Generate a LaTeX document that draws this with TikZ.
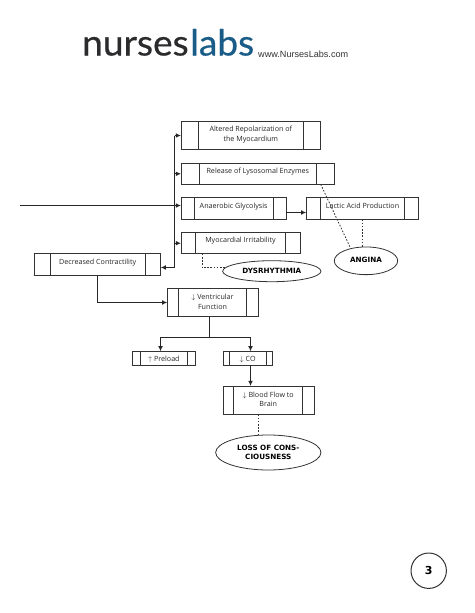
\documentclass[tikz,border=0pt]{standalone}
\usepackage{fontspec}
\usetikzlibrary{arrows.meta,shapes.geometric,calc}
\setmainfont{DejaVu Sans}
\newfontfamily\logofont[FakeBold=0.5,FakeStretch=1.03]{Lato}
\newfontfamily\urlfont{Liberation Sans}
\newfontfamily\boxfont{Open Sans}
\definecolor{ink}{gray}{0.2}
\definecolor{logodark}{HTML}{2B2B2D}
\definecolor{logoblue}{HTML}{1A5C88}
\tikzset{
  x=1pt,y=-1pt,
  flowbox/.style={draw=ink,line width=0.8pt,rectangle,inner sep=0pt,outer sep=0pt},
  boxlabel/.style={font=\boxfont\fontsize{7.15}{9.3}\selectfont,text=black!85,align=center,inner sep=0pt},
  oval/.style={draw=ink,line width=0.8pt,ellipse,inner sep=0pt,outer sep=0pt,fill=white,
    font=\fontsize{7.2}{9.3}\selectfont\bfseries,text=black,align=center},
  flow/.style={draw=black!85,line width=1.05pt,-{Latex[length=5.2pt,width=4.8pt]}},
  plainflow/.style={draw=black!85,line width=1.05pt},
  dotline/.style={draw=ink,line width=0.8pt,dash pattern=on 1.6pt off 1.6pt},
}
% name, x1, y1, x2, y2, inner1, inner2, text dy, label
\newcommand{\flowboxat}[9]{%
  \node[flowbox,minimum width={(#4-#2)*1pt},minimum height={(#5-#3)*1pt}] (#1) at ({(#2+#4)/2},{(#3+#5)/2}) {};
  \draw[ink,line width=0.8pt] (#6,#3) -- (#6,#5) (#7,#3) -- (#7,#5);
  \node[boxlabel] (#1t) at ({(#6+#7)/2},{(#3+#5)/2+#8}) {#9};
}
\begin{document}
\begin{tikzpicture}
\useasboundingbox (0,0) rectangle (474,613);
\fill[white] (0,0) rectangle (474,613);
% header
\node[anchor=base west,inner sep=0pt,font=\logofont\fontsize{36}{36}\selectfont,text=logodark] (lgn) at (82,55.5) {nurses};
\node[anchor=base west,inner sep=0pt,font=\logofont\fontsize{36}{36}\selectfont,text=logoblue] (lgl) at (190,55.5) {labs};
\node[anchor=base west,inner sep=0pt,font=\urlfont\fontsize{9.1}{10}\selectfont,text=ink] (url) at (258,57.5) {www.NursesLabs.com};
% boxes
\flowboxat{alt}{181}{121.7}{320.7}{149.3}{198}{303.7}{-1}{Altered Repolarization of\\the Myocardium}
\flowboxat{rel}{181}{163.3}{334.7}{184.3}{199.7}{316}{-2.2}{Release of Lysosomal Enzymes}
\flowboxat{ana}{181}{197.7}{286}{219.3}{194}{273.3}{-2.2}{Anaerobic Glycolysis}
\flowboxat{lac}{306.3}{197.7}{418.3}{219.3}{320.3}{404.7}{-2.2}{Lactic Acid Production}
\flowboxat{myo}{181}{232.7}{300}{253.7}{195.7}{285.3}{-2.2}{Myocardial Irritability}
\flowboxat{dec}{34.7}{253.7}{160.7}{275}{50}{145.3}{-2.2}{Decreased Contractility}
\flowboxat{ven}{167.3}{288.7}{258.3}{316.7}{178.3}{246.7}{-1}{$\downarrow$ Ventricular\\Function}
\flowboxat{pre}{132.7}{351.3}{195.3}{365.3}{140}{187.7}{0.8}{$\uparrow$ Preload}
\flowboxat{co}{223}{351.3}{272.3}{365.3}{229.3}{266}{0.8}{$\downarrow$ CO}
\flowboxat{blo}{223}{386}{314}{414.3}{233.7}{302.7}{-1}{$\downarrow$ Blood Flow to\\Brain}
% ellipses
\node[oval,minimum width=98.3pt,minimum height=21pt] (dys) at (271.8,271.2) {DYSRHYTHMIA};
\node[oval,minimum width=63.4pt,minimum height=27.7pt] (ang) at (366,260.8) {\raisebox{2.5pt}{ANGINA}};
\node[oval,minimum width=105.3pt,minimum height=35pt] (los) at (268.3,452.5) {LOSS OF CONS-\\CIOUSNESS};
% page number
\node[circle,draw=ink,line width=1pt,minimum size=35.4pt,inner sep=0pt,font=\fontsize{11}{11}\selectfont\bfseries,text=black] (pg) at (428.7,570.7) {3};
% connectors
\coordinate (start) at (20,205.5);
\coordinate (trtop) at (174.5,135.5);
\coordinate (trbot) at (174.5,267.5);
\draw[flow,line width=1.3pt] (start) -- (start -| ana.west);
\draw[plainflow] (trtop) -- (trbot);
\draw[flow] (trtop) -- (trtop -| alt.west);
\draw[flow] (trtop |- rel.west) -- (rel.west);
\draw[flow] (trtop |- myo.west) -- (myo.west);
\draw[flow] (trbot) -- (trbot -| dec.east);
\draw[flow] (ana.east |- 0,212.5) -- (lac.west |- 0,212.5);
\draw[flow] (dec.south -| 97.5,0) -- (97.5,302.5) -- (ven.west |- 0,302.5);
\coordinate (vb) at (209.5,337.5);
\draw[plainflow] (ven.south -| vb) -- (vb);
\draw[flow] (vb) -- (160.5,337.5) -- (160.5,351.3);
\draw[flow] (vb) -- (250.5,337.5) -- (250.5,351.3);
\draw[flow] (co.south -| 250.5,0) -- (blo.north -| 250.5,0);
\draw[dotline] (rel.south -| 320.7,0) -- (350,247);
\draw[dotline] (lac.south -| 362.3,0) -- (362.3,247);
\draw[dotline] (myo.south -| 202,0) -- (202,267.7) -- (225,267.7);
\draw[dotline] (blo.south -| 258,0) -- (los.north -| 258,0);
\end{tikzpicture}
\end{document}
